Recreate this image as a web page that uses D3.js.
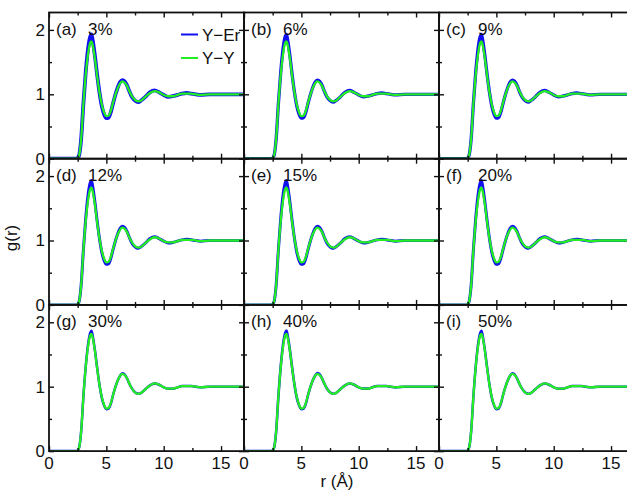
<!DOCTYPE html>
<html><head><meta charset="utf-8">
<script src="https://cdn.jsdelivr.net/npm/d3@7"></script>
<style>body{margin:0;background:#fff}svg{display:block}text{font-family:"Liberation Sans",Arial,sans-serif;fill:#111}</style>
</head><body><svg id="c" width="627" height="490"></svg>
<script>
const rValues = [0,2.4,2.6,2.8,3.0,3.2,3.4,3.6,3.7,3.8,4.0,4.2,4.4,4.6,4.8,5.0,5.2,5.4,5.6,5.8,6.0,6.2,6.4,6.6,6.8,7.0,7.2,7.4,7.6,7.8,8.0,8.4,8.8,9.2,9.6,10.0,10.4,10.8,11.2,11.6,12.0,12.4,12.8,13.2,14,15,16,17];
// Y-Er, panels (a)-(f)
const gYEr = [0,0,0.04,0.3,0.86,1.34,1.7,1.9,1.93,1.85,1.6,1.3,1.03,0.82,0.69,0.63,0.64,0.73,0.87,1.0,1.11,1.19,1.22,1.2,1.14,1.05,0.97,0.92,0.89,0.88,0.9,0.96,1.03,1.06,1.03,0.99,0.96,0.97,0.99,1.01,1.02,1.01,1.0,0.99,1.0,1.0,1.0,1.0];
// Y-Er, panels (g)-(i)
const gYErHigh = [0,0,0.04,0.3,0.85,1.31,1.65,1.84,1.87,1.8,1.57,1.29,1.03,0.83,0.71,0.65,0.66,0.74,0.88,1.0,1.1,1.17,1.21,1.19,1.13,1.05,0.98,0.93,0.9,0.89,0.9,0.96,1.02,1.05,1.03,0.99,0.97,0.97,0.99,1.01,1.01,1.01,1.0,0.99,1.0,1.0,1.0,1.0];
// Y-Y
const gYY = [0,0,0.04,0.3,0.85,1.3,1.62,1.8,1.82,1.77,1.56,1.28,1.03,0.84,0.72,0.66,0.67,0.75,0.88,1.0,1.1,1.17,1.2,1.18,1.13,1.05,0.98,0.93,0.9,0.89,0.9,0.96,1.02,1.05,1.03,0.99,0.97,0.97,0.99,1.01,1.01,1.01,1.0,0.99,1.0,1.0,1.0,1.0];
const panelLetters = ["(a)","(b)","(c)","(d)","(e)","(f)","(g)","(h)","(i)"];
const panelPercents = ["3%","6%","9%","12%","15%","20%","30%","40%","50%"];
const xTickLabels = [0,5,10,15];
const yTickLabels = [0,1,2];
const seriesNames = ["Y\u2212Er","Y\u2212Y"];
const blueWidths = [3.8,3.3,3.3,3,3,3,2.5,2.6,2.5];

const svg = d3.select("#c");
const pLeft = 49, pw = 195, pTop = 12.5, ph = 146.2;
const x = d3.scaleLinear().domain([0,17]).range([0,pw]);
const y = d3.scaleLinear().domain([0,2.27]).range([ph,0]);
const pts = (arr) => rValues.map((r,i)=>[r,arr[i]]);
const line = d3.line().x(d=>x(d[0])).y(d=>y(d[1])).curve(d3.curveMonotoneX);
const xt = [0,2.5,5,7.5,10,12.5,15], yt = [0,0.5,1,1.5,2];

svg.append("defs").append("clipPath").attr("id","pc").append("rect").attr("width",pw).attr("height",ph);

function styleTicks(sel, attr, f){
  sel.select(".domain").remove();
  sel.selectAll(".tick line").attr("stroke","#111").attr("stroke-width",1.4).attr(attr,f);
}

for (let i=0;i<9;i++){
  const col=i%3,row=Math.floor(i/3);
  const g = svg.append("g").attr("transform",`translate(${pLeft+col*pw},${pTop+row*ph})`);
  const plot = g.append("g").attr("clip-path","url(#pc)");
  const blueData = row===2 ? gYErHigh : gYEr;
  plot.append("path").attr("d",line(pts(blueData))).attr("fill","none").attr("stroke","#1010f0").attr("stroke-width",blueWidths[i]).attr("stroke-linejoin","round");
  plot.append("path").attr("d",line(pts(gYY))).attr("fill","none").attr("stroke","#22ee22").attr("stroke-width",2.3).attr("stroke-linejoin","round");

  const axB = g.append("g").attr("transform",`translate(0,${ph})`).call(d3.axisBottom(x).tickValues(xt).tickSizeOuter(0).tickFormat(""));
  styleTicks(axB,"y2",d=>d%5===0?-5:-3);
  const axT = g.append("g").call(d3.axisTop(x).tickValues(xt).tickSizeOuter(0).tickFormat(""));
  styleTicks(axT,"y2",d=>d%5===0?5:3);
  const axL = g.append("g").call(d3.axisLeft(y).tickValues(yt).tickSizeOuter(0).tickFormat(""));
  styleTicks(axL,"x2",d=>d%1===0?5:3);
  const axR = g.append("g").attr("transform",`translate(${pw},0)`).call(d3.axisRight(y).tickValues(yt).tickSizeOuter(0).tickFormat(""));
  styleTicks(axR,"x2",d=>d%1===0?-5:-3);
  g.append("rect").attr("width",pw).attr("height",ph).attr("fill","none").attr("stroke","#111").attr("stroke-width",1.8);

  g.append("text").attr("x",7).attr("y",22).attr("font-size",17).text(panelLetters[i]);
  g.append("text").attr("x",39).attr("y",22).attr("font-size",17).text(panelPercents[i]);
  if (col===0){
    g.selectAll(".yl").data(yTickLabels).enter().append("text").attr("x",-4).attr("y",d=>y(d)+6).attr("text-anchor","end").attr("font-size",17).text(d=>d);
  }
  if (row===2){
    g.selectAll(".xl").data(xTickLabels).enter().append("text").attr("x",d=>x(d)).attr("y",ph+18).attr("text-anchor","middle").attr("font-size",17).text(d=>d);
  }
  if (i===0){
    const colors=["#1010f0","#22ee22"];
    seriesNames.forEach((n,k)=>{
      const ly = 22+k*23.5;
      g.append("line").attr("x1",132).attr("x2",149).attr("y1",ly).attr("y2",ly).attr("stroke",colors[k]).attr("stroke-width",2);
      g.append("text").attr("x",153).attr("y",ly+6).attr("font-size",17).text(n);
    });
  }
}
svg.append("text").attr("transform","translate(17,238) rotate(-90)").attr("text-anchor","middle").attr("font-size",17).text("g(r)");
svg.append("text").attr("x",337).attr("y",487).attr("text-anchor","middle").attr("font-size",17).text("r (\u00C5)");
</script></body></html>
